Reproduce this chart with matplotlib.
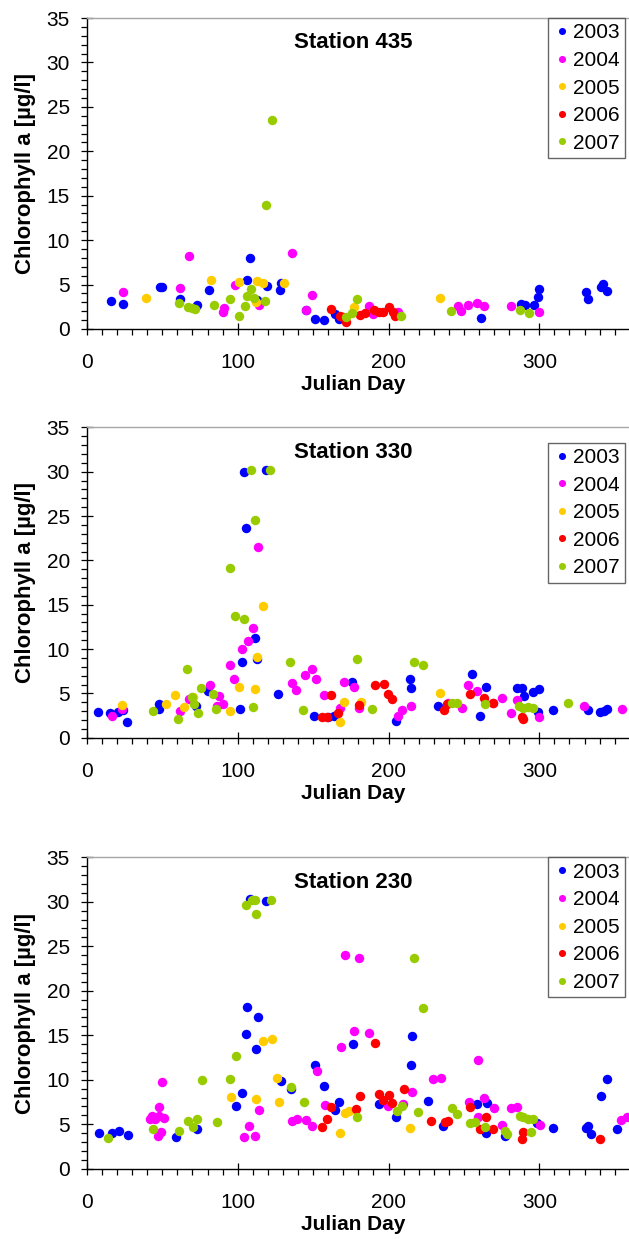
import matplotlib
matplotlib.use("Agg")
import matplotlib.pyplot as plt
from matplotlib.ticker import MultipleLocator

plt.rcParams['font.family'] = ['Liberation Sans', 'DejaVu Sans']

years = ['2003', '2004', '2005', '2006', '2007']
colors = ['#0000FF', '#FF00FF', '#FFCC00', '#FF0000', '#99CC00']
stations = ['Station 435', 'Station 330', 'Station 230']
xticks = [0, 100, 200, 300]
yticks = [0, 5, 10, 15, 20, 25, 30, 35]

# ---------------- Station 435 ----------------
s435_2003_day = [16, 24, 48.5, 49.6, 62, 73, 81, 106, 108, 112.6, 119.6, 128, 129, 145, 151, 157,
                 164.5, 167, 261, 288, 290.7, 296.5, 299, 300, 331, 332, 341, 342.5, 344.7]
s435_2003_chl = [3.1, 2.8, 4.7, 4.75, 3.4, 2.7, 4.35, 5.5, 7.95, 3.25, 4.85, 4.35, 5.2, 2.15, 1.1, 1.0,
                 1.65, 1.1, 1.2, 2.8, 2.65, 2.65, 3.55, 4.55, 4.15, 3.4, 4.7, 5.05, 4.3]
s435_2004_day = [24, 62, 68, 90.5, 91, 98, 114, 136, 145, 149, 187, 190, 206.5, 246, 248, 252.5,
                 259, 263, 281.5, 300]
s435_2004_chl = [4.2, 4.6, 8.25, 1.95, 2.4, 4.9, 2.65, 8.5, 2.15, 3.8, 2.6, 1.7, 1.95, 2.6, 2.05, 2.7,
                 2.95, 2.6, 2.55, 1.9]
s435_2005_day = [39, 82, 101, 112, 113, 117, 131, 177, 234]
s435_2005_chl = [3.45, 5.55, 5.3, 3.05, 5.35, 5.2, 5.15, 2.5, 3.5]
s435_2006_day = [162, 168, 170, 172, 181, 184.5, 190.5, 194, 196.5, 200, 203, 204]
s435_2006_chl = [2.2, 1.45, 1.4, 0.8, 1.6, 1.75, 2.15, 1.95, 1.95, 2.5, 1.95, 1.45]
s435_2007_day = [61, 67, 69.7, 71.5, 84, 95, 101, 105, 106, 109, 111, 118, 119, 122.5, 172, 176, 179,
                 208, 241.5, 287, 293]
s435_2007_chl = [2.9, 2.5, 2.35, 2.2, 2.7, 3.4, 1.45, 2.55, 3.7, 4.45, 3.45, 3.1, 14.0, 23.5, 1.3, 1.75,
                 3.4, 1.5, 2.05, 2.15, 1.75]

# ---------------- Station 330 ----------------
s330_2003_day = [7.6, 15.3, 20.8, 23.7, 26.8, 48, 48, 72.3, 80, 101.7, 102.6, 104.4, 105.5, 111.5,
                 112.6, 118.8, 127, 150.6, 160, 163.9, 176, 204.7, 214, 214.7, 232.6, 255.5, 260.7,
                 264.9, 285, 288.3, 290, 295.5, 299, 300, 308.9, 332, 340, 343, 344.7]
s330_2003_chl = [2.95, 2.75, 2.85, 3.1, 1.8, 3.8, 3.2, 3.55, 5.25, 3.2, 8.55, 30.0, 23.6, 11.3,
                 8.85, 30.2, 4.9, 2.45, 2.35, 2.45, 6.3, 1.9, 6.65, 5.65, 3.55, 7.2, 2.45,
                 5.7, 5.55, 5.55, 4.7, 5.2, 2.95, 5.45, 3.15, 3.1, 2.9, 3.05, 3.25]
s330_2004_day = [16.4, 23.3, 61.7, 68, 81.6, 86, 87.8, 90.4, 94.9, 97.5, 102.6, 106.6, 110.4, 113.7,
                 135.8, 138.6, 144.6, 149, 151.9, 157.4, 167.8, 170.7, 176.9, 180.6, 206, 209, 215,
                 239.6, 248.6, 252.9, 258.9, 269.5, 275, 281, 285, 300, 329.6, 355]
s330_2004_chl = [2.45, 3.2, 3.0, 4.35, 5.95, 3.55, 4.75, 3.75, 8.25, 6.65, 10.05, 10.95, 12.4, 21.5,
                 6.2, 5.4, 7.05, 7.8, 6.6, 4.8, 3.3, 6.3, 5.7, 3.3, 2.45, 3.1, 3.55,
                 3.95, 3.4, 5.95, 5.3, 3.9, 4.5, 2.75, 4.25, 2.3, 3.6, 3.25]
s330_2005_day = [23.5, 52.4, 58.6, 64.6, 70.6, 94.9, 100.9, 111.7, 112.6, 116.6, 167.8, 170.7, 181.7,
                 233.9]
s330_2005_chl = [3.7, 3.75, 4.8, 3.5, 4.55, 3.0, 5.75, 5.45, 9.05, 14.9, 1.75, 4.05, 4.0, 5.0]
s330_2006_day = [155.7, 159, 161.6, 166.7, 180.6, 190.8, 197, 199.4, 202, 236.8, 238.6, 253.8, 263.6,
                 269.5, 288.3, 289]
s330_2006_chl = [2.35, 2.35, 4.85, 2.8, 3.7, 6.0, 6.05, 4.9, 4.35, 3.1, 3.8, 4.9, 4.45, 3.9, 2.35, 2.1]
s330_2007_day = [43.6, 60.6, 66.6, 70, 71, 73.4, 75.7, 83.8, 85.6, 95, 98.4, 104.4, 108.8, 110.4,
                 111.5, 121.6, 134.7, 143.5, 178.9, 188.8, 216.7, 222.9, 241.9, 245.2, 264.2,
                 286.7, 289.4, 292.7, 296, 318.8]
s330_2007_chl = [3.0, 2.15, 7.8, 4.55, 3.8, 2.8, 5.55, 4.9, 3.25, 19.15, 13.7, 13.4, 30.2, 3.45,
                 24.55, 30.2, 8.55, 3.1, 8.85, 3.25, 8.55, 8.25, 3.9, 3.9, 3.75,
                 3.6, 3.3, 3.5, 3.4, 3.9]

# ---------------- Station 230 ----------------
s230_2003_day = [8.2, 16.4, 21.3, 27, 59, 73.2, 99, 103, 105.3, 106.4, 108.3, 112.2, 113.3, 118.8,
                 128.5, 135.1, 151, 157.2, 164.5, 167.2, 176.2, 193.8, 205, 214.6, 215.3, 226.4,
                 235.9, 258.9, 264.6, 265.5, 277.3, 298.2, 309.3, 330.8, 332.5, 334.3, 341.1,
                 344.7, 351.5]
s230_2003_chl = [4.0, 4.0, 4.25, 3.8, 3.55, 4.45, 7.1, 8.55, 15.1, 18.2, 30.3, 13.45, 17.1, 30.05,
                 9.85, 8.95, 11.6, 9.25, 6.6, 7.45, 14.0, 7.3, 5.85, 11.6, 14.9, 7.6,
                 4.85, 7.3, 4.05, 7.4, 3.7, 5.1, 4.6, 4.6, 4.85, 3.9, 8.2,
                 10.05, 4.45]
s230_2004_day = [41.8, 43, 45.2, 47.3, 48, 48, 49.1, 50, 51.3, 104, 107.3, 111.3, 114.1, 136.2,
                 139.3, 145.3, 149.3, 152.4, 157.9, 168.2, 171.3, 177.3, 180.2, 187.3, 199.4,
                 209.4, 215.3, 229.3, 234.6, 253.4, 259.4, 259.6, 263.2, 270.2, 275.5, 281.2,
                 285.4, 300.4, 354.2, 358]
s230_2004_chl = [5.55, 5.95, 5.55, 3.7, 6.9, 5.95, 4.15, 9.7, 5.75, 3.6, 4.85, 3.7, 6.6, 5.35,
                 5.6, 5.5, 4.85, 10.95, 7.15, 13.65, 24.05, 15.5, 23.7, 15.3, 7.1,
                 7.25, 8.65, 10.1, 10.15, 7.55, 12.2, 5.85, 7.95, 6.85, 4.9, 6.85,
                 6.9, 4.9, 5.5, 5.8]
s230_2005_day = [95.3, 112.2, 117, 123, 125.8, 127.3, 167.8, 171.2, 174, 214.2]
s230_2005_chl = [8.05, 7.85, 14.3, 14.55, 10.15, 7.55, 4.0, 6.3, 6.5, 4.6]
s230_2006_day = [156, 159.4, 162.1, 178.2, 181, 191.2, 193.8, 196.5, 200.3, 202.1, 210.3, 228.2,
                 237.4, 239.6, 254, 260.7, 264.4, 269.5, 288.3, 289, 340.2]
s230_2006_chl = [4.65, 5.6, 6.95, 6.75, 8.2, 14.15, 8.35, 7.75, 8.3, 7.35, 9.0, 5.4,
                 5.2, 5.4, 6.9, 4.45, 5.85, 4.45, 3.3, 4.1, 3.35]
s230_2007_day = [14.2, 44, 61, 66.8, 70.1, 72.8, 76, 86, 94.9, 99, 105.3, 109.3, 111.5, 112.2, 122,
                 135.1, 144.2, 179, 205.4, 208.7, 216.8, 219.3, 223, 242.3, 245.2, 254, 257.3,
                 264.2, 277.3, 278.3, 287.1, 289.4, 292.7, 294.3, 296]
s230_2007_chl = [3.5, 4.45, 4.25, 5.35, 4.7, 5.55, 10.0, 5.25, 10.05, 12.65, 29.6, 30.2, 30.2, 28.65,
                 30.2, 9.2, 7.45, 5.85, 6.5, 7.1, 23.65, 6.4, 18.1, 6.8, 6.1, 5.1, 5.2,
                 4.65, 4.25, 3.9, 5.95, 5.85, 5.55, 4.15, 5.55]

panel_data = [
    [(s435_2003_day, s435_2003_chl), (s435_2004_day, s435_2004_chl), (s435_2005_day, s435_2005_chl),
     (s435_2006_day, s435_2006_chl), (s435_2007_day, s435_2007_chl)],
    [(s330_2003_day, s330_2003_chl), (s330_2004_day, s330_2004_chl), (s330_2005_day, s330_2005_chl),
     (s330_2006_day, s330_2006_chl), (s330_2007_day, s330_2007_chl)],
    [(s230_2003_day, s230_2003_chl), (s230_2004_day, s230_2004_chl), (s230_2005_day, s230_2005_chl),
     (s230_2006_day, s230_2006_chl), (s230_2007_day, s230_2007_chl)],
]

W, H = 629, 1239
fig = plt.figure(figsize=(W / 100, H / 100), dpi=100)

# axes boxes in pixels: (top, bottom)
left_px = 86.9
width_px = 542.9
boxes = [(18.0, 329.0), (427.4, 737.7), (857.3, 1168.7)]
legend_tops = [1.0, 0.9507, 1.0]
xlabel_offsets = [56, 56, 56]

for i, (top, bot) in enumerate(boxes):
    ax = fig.add_axes([left_px / W, 1 - bot / H, width_px / W, (bot - top) / H])
    for (d, c), yr, col in zip(panel_data[i], years, colors):
        ax.plot(d, c, linestyle='none', marker='o', markersize=6.8, markeredgewidth=0,
                color=col, label=yr, clip_on=False)
    ax.set_xlim(0, 360)
    ax.set_ylim(0, 35)
    ax.set_xticks(xticks)
    ax.set_yticks(yticks)
    ax.xaxis.set_minor_locator(MultipleLocator(10))
    ax.yaxis.set_minor_locator(MultipleLocator(1))
    ax.tick_params(which='major', direction='inout', length=8.6, width=0.9, labelsize=15,
                   color='black')
    ax.tick_params(axis='x', which='major', pad=13.2)
    ax.tick_params(axis='y', which='major', pad=7.9)
    ax.tick_params(which='minor', direction='out', length=4.2, width=0.9, color='black')
    for s in ['left', 'bottom']:
        ax.spines[s].set_linewidth(1.0)
        ax.spines[s].set_color('black')
    ax.spines['top'].set_color('#a6a6a6')
    ax.spines['top'].set_linewidth(1.0)
    ax.spines['right'].set_visible(False)

    h_ax = bot - top
    ax.set_ylabel('Chlorophyll a [µg/l]', fontsize=16, fontweight='bold')
    ax.yaxis.set_label_coords((36 - left_px) / width_px, 0.5)
    ax.set_xlabel('Julian Day', fontsize=15, fontweight='bold', va='center')
    ax.xaxis.set_label_coords(0.49, -xlabel_offsets[i] / h_ax)

    ax.text(0.49, 1 - 25 / h_ax, stations[i], transform=ax.transAxes, ha='center', va='center',
            fontsize=16, fontweight='bold')

    leg = ax.legend(loc='upper right', bbox_to_anchor=((625.5 - left_px) / width_px, legend_tops[i]),
                    fontsize=15, frameon=True, fancybox=False, borderpad=0.26, labelspacing=0.41,
                    handlelength=0.75, handletextpad=0.19, borderaxespad=0, markerscale=0.75)
    leg.get_frame().set_edgecolor('#404040')
    leg.get_frame().set_linewidth(1.0)

fig.savefig('out.png', dpi=100)
